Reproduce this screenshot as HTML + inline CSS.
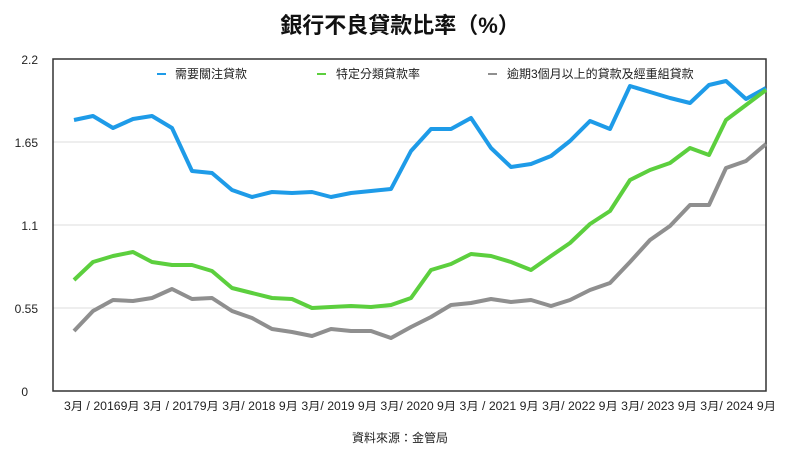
<!DOCTYPE html><html><head><meta charset="utf-8"><style>
body{margin:0;background:#fff;width:800px;height:460px;overflow:hidden;font-family:"Liberation Sans","Noto Sans CJK TC",sans-serif}
</style></head><body>
<svg width="800" height="460" xmlns="http://www.w3.org/2000/svg" font-family="Liberation Sans, Noto Sans CJK TC, sans-serif">
<text x="400" y="33" text-anchor="middle" font-size="22" font-weight="bold" fill="#111">銀行不良貸款比率（%）</text>
<g stroke="#ddd" stroke-width="1">
<line x1="53" y1="142" x2="766" y2="142"/><line x1="53" y1="225" x2="766" y2="225"/><line x1="53" y1="308" x2="766" y2="308"/></g>
<rect x="53" y="59" width="713" height="332" fill="none" stroke="#333" stroke-width="1.5"/>
<g font-size="12" fill="#222" text-anchor="end">
<text x="38" y="64">2.2</text><text x="38" y="147">1.65</text><text x="38" y="230">1.1</text><text x="38" y="313">0.55</text><text x="28" y="396">0</text></g>
<g font-size="12" fill="#222">
<line x1="157" y1="74" x2="166" y2="74" stroke="#1e9be8" stroke-width="2"/><text x="175" y="78">需要關注貸款</text>
<line x1="317" y1="74" x2="326" y2="74" stroke="#5ccf3e" stroke-width="2"/><text x="336" y="78">特定分類貸款率</text>
<line x1="488" y1="74" x2="497" y2="74" stroke="#8f8f8f" stroke-width="2"/><text x="507" y="78">逾期3個月以上的貸款及經重組貸款</text>
</g>
<g fill="none" stroke-width="4" stroke-linejoin="round">
<polyline stroke="#1e9be8" points="74,120 93,116 113,128 133,119 152,116 172,128 192,171 212,173 232,190 252,197 272,192 292,193 312,192 331,197 351,193 371,191 391,189 411,151 431,129 451,129 471,118 491,148 511,167 531,164 551,156 570,141 590,121 610,129 630,86 650,92 670,98 690,103 709,85 726,81 746,99 766,88"/>
<polyline stroke="#5ccf3e" points="74,280 93,262 113,256 133,252 152,262 172,265 192,265 212,271 232,288 252,293 272,298 292,299 312,308 331,307 351,306 371,307 391,305 411,298 431,270 451,264 471,254 491,256 511,262 531,270 551,256 570,243 590,224 610,211 630,180 650,170 670,163 690,148 709,155 726,120 746,105 766,90"/>
<polyline stroke="#8f8f8f" points="74,331 93,311 113,300 133,301 152,298 172,289 192,299 212,298 232,311 252,318 272,329 292,332 312,336 331,329 351,331 371,331 391,338 411,327 431,317 451,305 471,303 491,299 511,302 531,300 551,306 570,300 590,290 610,283 630,262 650,240 670,226 690,205 709,205 726,168 746,161 766,144"/>
</g>
<text x="64" y="410" font-size="11.5" fill="#222" textLength="712" lengthAdjust="spacingAndGlyphs">3月 / 20169月 3月 / 20179月 3月/ 2018 9月 3月/ 2019 9月 3月/ 2020 9月 3月 / 2021 9月 3月/ 2022 9月 3月/ 2023 9月 3月/ 2024 9月</text>
<text x="400" y="442" text-anchor="middle" font-size="12" fill="#222">資料來源：金管局</text>
</svg>
</body></html>
